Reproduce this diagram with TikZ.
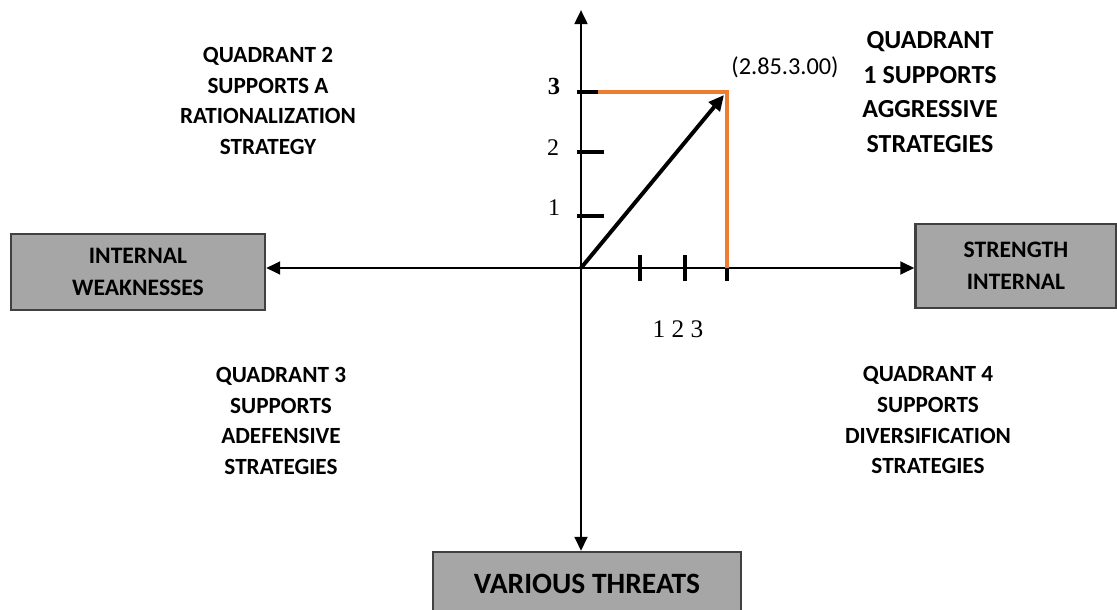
\documentclass[tikz,border=0pt]{standalone}
\usepackage{fontspec}
\setmainfont{Liberation Serif}
\newfontfamily\carlito{Carlito}
\usepackage{xcolor}
\usetikzlibrary{arrows.meta,positioning,calc}
\definecolor{boxgray}{HTML}{A6A6A6}
\definecolor{boxline}{HTML}{404040}
\definecolor{strorange}{HTML}{ED7D31}

\begin{document}
\begin{tikzpicture}[
    x=0.025cm,y=-0.025cm,
    factor/.style={draw=boxline,line width=1.6pt,fill=boxgray,align=center,inner sep=0pt,
      font=\carlito\bfseries\fontsize{16.8}{23}\selectfont},
    quad/.style={align=center,font=\carlito\bfseries\fontsize{16.5}{22}\selectfont},
    num/.style={font=\fontsize{17}{19}\selectfont,inner sep=0pt},
    axis/.style={line width=2pt,{Triangle[length=10pt,width=9pt]}-{Triangle[length=10pt,width=9pt]}},
    ticmark/.style={line width=2.8pt},
    >=Latex
  ]
    \useasboundingbox (0,0) rectangle (1117,610);
    % factor boxes
    \node[factor,minimum width=6.35cm,minimum height=1.9cm] (weak) at (138,272) {INTERNAL\\WEAKNESSES};
    \node[factor,minimum width=5.025cm,minimum height=2.1cm] (strong) at (1016,266) {STRENGTH\\INTERNAL};
    \node[factor,minimum width=7.7cm,minimum height=1.6cm,
      font=\carlito\bfseries\fontsize{21}{24}\selectfont] (threats) at (587,584) {VARIOUS THREATS};

    % axes
    \coordinate (o) at (581,268);
    \coordinate (ytop) at (581,10);
    \draw[axis] (ytop) -- (o |- threats.north);
    \draw[axis] (weak.east |- o) -- (strong.west |- o);

    % ticks on the axes
    \foreach \y in {216,152}
      \draw[ticmark] (577,\y) -- (604,\y);
    \draw[ticmark] (577,92) -- (600,92);
    \foreach \x in {640,685,727}
      \draw[ticmark] (\x,255) -- (\x,281);
    \node[num] (y1) at (554,208) {1};
    \node[num] (y2) at (553,148) {2};
    \node[num,font=\bfseries\fontsize{17.5}{19}\selectfont] (y3) at (554,86) {3};
    \node[num,font=\fontsize{18}{20}\selectfont] (xlab) at (678,329) {1 2 3};

    % strategic position
    \coordinate (p) at (727,92);
    \draw[strorange,line width=2.6pt] (598,92) -- (p) -- (p |- o);
    \draw[line width=2.8pt,-{Triangle[length=11pt,width=10pt]}] (o) -- ($(p)+(-3,3)$);
    \node[font=\carlito\fontsize{17.3}{19}\selectfont] (pt) at (785,67) {(2.85.3.00)};

    % quadrants
    \node[quad,font=\carlito\bfseries\fontsize{18.5}{24.5}\selectfont] (q1) at (930,92) {QUADRANT\\1 SUPPORTS\\AGGRESSIVE\\STRATEGIES};
    \node[quad] (q2) at (268,101) {QUADRANT 2\\SUPPORTS A\\RATIONALIZATION\\STRATEGY};
    \node[quad] (q3) at (281,421) {QUADRANT 3\\SUPPORTS\\ADEFENSIVE\\STRATEGIES};
    \node[quad] (q4) at (928,420) {QUADRANT 4\\SUPPORTS\\DIVERSIFICATION\\STRATEGIES};
  \end{tikzpicture}
\end{document}
